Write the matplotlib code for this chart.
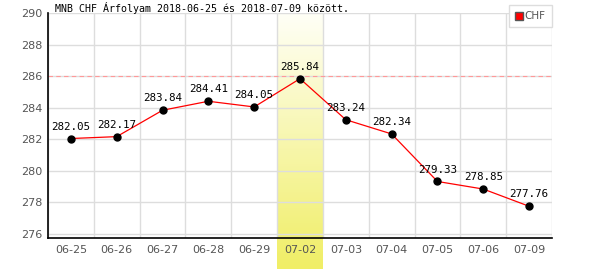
import matplotlib.pyplot as plt
import numpy as np
from matplotlib.colors import LinearSegmentedColormap

datumok = ["06-25", "06-26", "06-27", "06-28", "06-29", "07-02",
           "07-03", "07-04", "07-05", "07-06", "07-09"]
arfolyam = [282.05, 282.17, 283.84, 284.41, 284.05, 285.84,
            283.24, 282.34, 279.33, 278.85, 277.76]
kiemelt = 5
szaggatott = 286
cim = "MNB CHF Árfolyam 2018-06-25 és 2018-07-09 között."

fig = plt.figure(figsize=(6, 2.7), dpi=100)
ax = fig.add_axes([48/600, 1 - 238/270, 504/600, 225/270])

x = np.arange(len(datumok))
ax.set_xlim(-0.5, len(datumok) - 0.5)

# kiemelt nap sávja (a tengely alá is lenyúlik)
sarga = LinearSegmentedColormap.from_list("s", ["#fffff6", "#f0ee66"])
grad = np.linspace(0, 1, 100).reshape(-1, 1)
kep = ax.imshow(grad, cmap=sarga, aspect="auto", origin="upper",
                extent=(kiemelt - 0.5, kiemelt + 0.5, 273.8, 290), zorder=0)
kep.set_clip_on(False)
ax.set_ylim(275.75, 290)

ax.set_yticks(np.arange(276, 291, 2))
ax.set_xticks(x)
ax.set_xticklabels(datumok)
ax.set_xticks(np.arange(-0.5, len(datumok), 1), minor=True)
ax.grid(True, which="minor", axis="x", color="#dddddd", lw=1, zorder=1)
ax.grid(True, which="major", axis="y", color="#dddddd", lw=1, zorder=1)
ax.tick_params(which="both", length=0, labelsize=8, colors="#555555", pad=5)
ax.tick_params(axis="y", pad=4)
for s in ["top", "right"]:
    ax.spines[s].set_visible(False)
ax.spines["left"].set_linewidth(1.2)
ax.spines["bottom"].set_linewidth(1.2)

ax.axhline(szaggatott, color="#ff9999", ls=(0, (4, 3)), lw=0.8, zorder=2)

ax.plot(x, arfolyam, color="red", lw=0.9, zorder=3)
ax.plot(x, arfolyam, "o", color="black", ms=5, zorder=4)
for xi, v in zip(x, arfolyam):
    ax.annotate(f"{v:.2f}", (xi, v), xytext=(0, 5), textcoords="offset points",
                ha="center", va="bottom", fontsize=7.8,
                family="DejaVu Sans Mono", color="black", zorder=5)

fig.text(55/600, 1 - 8/270, cim, fontsize=7.2, family="DejaVu Sans Mono",
         va="center", ha="left")

# jelmagyarázat
ax.plot([], [], "s", color="red", mec="#555555", ms=6, label="CHF")
leg = ax.legend(loc="upper right", bbox_to_anchor=(1.0, 1.036), fontsize=7.5,
                handlelength=0.6, handletextpad=0.3, borderpad=0.6,
                borderaxespad=0, fancybox=False, framealpha=1,
                edgecolor="#dddddd")
for t in leg.get_texts():
    t.set_color("#555555")

fig.savefig("out.png", dpi=100)
